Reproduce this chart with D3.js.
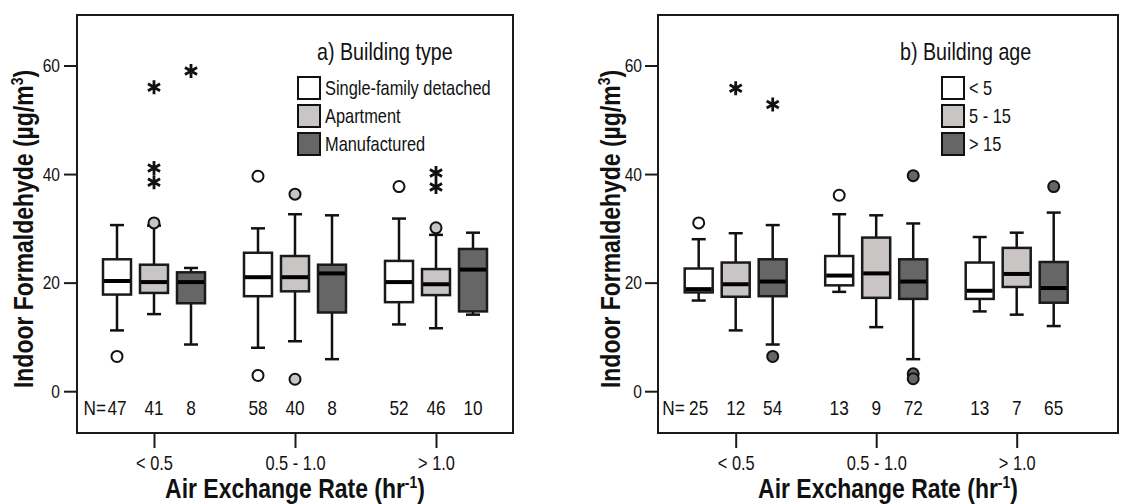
<!DOCTYPE html>
<meta charset="utf-8">
<style>
body { margin: 0; background: #fff; }
text { font-family: "Liberation Sans", Arial, sans-serif; fill: #111; }
.frame { fill: none; stroke: #1a1a1a; stroke-width: 2px; }
.axis path { display: none; }
.axis line { stroke: #1a1a1a; stroke-width: 2px; }
.axis text { font-size: 19px; fill: #111; }
.xaxis text { font-size: 20px; }
.title { font-size: 28px; font-weight: bold; }
.whisker { stroke: #111; stroke-width: 2.5px; }
.box { stroke: #1a1a1a; stroke-width: 2.5px; }
.median { stroke: #000; stroke-width: 4px; }
.outlier { stroke: #111; stroke-width: 2px; }
.star { stroke: #111; stroke-width: 2.8px; fill: none; }
.count { font-size: 21px; }
.legend-title { font-size: 24px; }
.legend-label { font-size: 20px; }
.swatch { stroke: #111; stroke-width: 2px; }
</style>
<svg width="1123" height="504"></svg>
<script src="https://d3js.org/d3.v7.min.js"></script>
<script>
// air exchange rate groups (x axis)
var rateGroups = ["< 0.5", "0.5 - 1.0", "> 1.0"];
var yTicks = [0, 20, 40, 60];
var fills = ["#ffffff", "#c9c5c5", "#666666"];

// panel a: building type
var typeSeries = ["Single-family detached", "Apartment", "Manufactured"];
// [lower whisker, q1, median, q3, upper whisker], by rate group then series
var typeStats = [
  [[11.2, 17.8, 20.3, 24.3, 30.6], [14.2, 18.1, 20.1, 23.3, 30.5], [8.6, 16.2, 20.1, 21.9, 22.7]],
  [[8.0, 17.5, 21.0, 25.5, 30.0], [9.2, 18.4, 21.0, 24.9, 32.6], [5.9, 14.5, 21.7, 23.3, 32.4]],
  [[12.3, 16.4, 20.1, 24.0, 31.8], [11.6, 17.7, 19.7, 22.5, 28.8], [14.1, 14.7, 22.4, 26.2, 29.2]]
];
var typeOutliers = [
  [[6.4], [31.0], []],
  [[39.6, 2.9], [36.3, 2.2], []],
  [[37.7], [30.1], []]
];
var typeExtremes = [
  [[], [56.0, 41.1, 38.5], [59.0]],
  [[], [], []],
  [[], [40.2, 37.6], []]
];
var typeN = [[47, 41, 8], [58, 40, 8], [52, 46, 10]];

// panel b: building age
var ageSeries = ["< 5", "5 - 15", "> 15"];
var ageStats = [
  [[16.7, 18.2, 18.8, 22.6, 28.0], [11.2, 17.4, 19.7, 23.7, 29.1], [8.6, 17.5, 20.2, 24.3, 30.6]],
  [[18.3, 19.5, 21.3, 24.9, 32.6], [11.8, 17.2, 21.7, 28.3, 32.4], [5.9, 17.0, 20.2, 24.3, 30.9]],
  [[14.7, 17.0, 18.5, 23.7, 28.4], [14.1, 19.2, 21.6, 26.4, 29.2], [12.0, 16.3, 19.0, 23.8, 32.9]]
];
var ageOutliers = [
  [[31.0], [], [6.4]],
  [[36.1], [], [39.7, 3.2, 2.3]],
  [[], [], [37.7]]
];
var ageExtremes = [
  [[], [55.8], [52.8]],
  [[], [], []],
  [[], [], []]
];
var ageN = [[25, 12, 54], [13, 9, 72], [13, 7, 65]];

var svg = d3.select("svg"),
    plotTop = 15,
    plotBottom = 433,
    boxWidth = 28,
    capWidth = 14,
    narrow = 0.82; // squeeze text to look like a narrow face

var y = d3.scaleLinear().domain([-7.7, 69.3]).range([plotBottom, plotTop]);

function drawPanel(p) {
  var g = svg.append("g");

  var x = d3.scalePoint().domain(rateGroups).range(p.groupRange);
  var xs = d3.scalePoint().domain(p.series).range([-37, 37]);
  var color = d3.scaleOrdinal().domain(p.series).range(fills);

  g.append("rect")
      .attr("class", "frame")
      .attr("x", p.x0)
      .attr("y", plotTop)
      .attr("width", p.x1 - p.x0)
      .attr("height", plotBottom - plotTop);

  g.append("g")
      .attr("class", "axis")
      .attr("transform", "translate(" + (p.x0 - 1) + ",0)")
      .call(d3.axisLeft(y).tickValues(yTicks).tickSize(12).tickPadding(p.tickPad));

  g.append("g")
      .attr("class", "axis xaxis")
      .attr("transform", "translate(0," + (plotBottom + 1) + ")")
      .call(d3.axisBottom(x).tickSize(14).tickPadding(8));

  var boxes = [];
  rateGroups.forEach(function(r, i) {
    p.series.forEach(function(s, j) {
      boxes.push({
        group: r, series: s, stats: p.stats[i][j],
        outliers: p.outliers[i][j], extremes: p.extremes[i][j], n: p.n[i][j],
        cx: x(r) + xs(s)
      });
    });
  });

  var box = g.selectAll(".boxplot")
    .data(boxes)
    .enter().append("g")
      .attr("class", "boxplot");

  box.append("line")
      .attr("class", "whisker")
      .attr("x1", function(d) { return d.cx; })
      .attr("x2", function(d) { return d.cx; })
      .attr("y1", function(d) { return y(d.stats[0]); })
      .attr("y2", function(d) { return y(d.stats[4]); });

  box.selectAll(".cap")
    .data(function(d) { return [d.stats[0], d.stats[4]].map(function(v) { return {cx: d.cx, v: v}; }); })
    .enter().append("line")
      .attr("class", "whisker cap")
      .attr("x1", function(d) { return d.cx - capWidth / 2; })
      .attr("x2", function(d) { return d.cx + capWidth / 2; })
      .attr("y1", function(d) { return y(d.v); })
      .attr("y2", function(d) { return y(d.v); });

  box.append("rect")
      .attr("class", "box")
      .attr("x", function(d) { return d.cx - boxWidth / 2; })
      .attr("width", boxWidth)
      .attr("y", function(d) { return y(d.stats[3]); })
      .attr("height", function(d) { return y(d.stats[1]) - y(d.stats[3]); })
      .attr("fill", function(d) { return color(d.series); });

  box.append("line")
      .attr("class", "median")
      .attr("x1", function(d) { return d.cx - boxWidth / 2 + 1; })
      .attr("x2", function(d) { return d.cx + boxWidth / 2 - 1; })
      .attr("y1", function(d) { return y(d.stats[2]); })
      .attr("y2", function(d) { return y(d.stats[2]); });

  box.selectAll(".outlier")
    .data(function(d) { return d.outliers.map(function(v) { return {cx: d.cx, v: v, series: d.series}; }); })
    .enter().append("circle")
      .attr("class", "outlier")
      .attr("cx", function(d) { return d.cx; })
      .attr("cy", function(d) { return y(d.v); })
      .attr("r", 5.5)
      .attr("fill", function(d) { return color(d.series); });

  // extremes drawn as asterisks
  box.selectAll(".star")
    .data(function(d) { return d.extremes.map(function(v) { return {cx: d.cx, v: v}; }); })
    .enter().append("path")
      .attr("class", "star")
      .attr("transform", function(d) { return "translate(" + d.cx + "," + y(d.v) + ")"; })
      .attr("d", function() {
        var a = 7, path = d3.path();
        [90, 30, 150].forEach(function(deg) {
          var t = deg * Math.PI / 180;
          path.moveTo(-a * Math.cos(t), -a * Math.sin(t));
          path.lineTo(a * Math.cos(t), a * Math.sin(t));
        });
        return path.toString();
      });

  box.append("text")
      .attr("class", "count")
      .attr("x", function(d) { return d.cx; })
      .attr("y", 415)
      .attr("text-anchor", "middle")
      .text(function(d) { return d.n; });

  g.append("text")
      .attr("class", "count")
      .attr("x", x(rateGroups[0]) + xs(p.series[0]) - p.nGap)
      .attr("y", 415)
      .attr("text-anchor", "end")
      .text("N=");

  // legend
  g.append("text")
      .attr("class", "legend-title")
      .attr("x", p.titleX)
      .attr("y", 60)
      .text(p.title);

  var item = g.selectAll(".legend-item")
    .data(p.series)
    .enter().append("g")
      .attr("class", "legend-item")
      .attr("transform", function(d, i) { return "translate(" + p.legendX + "," + (77 + i * 28) + ")"; });

  item.append("rect")
      .attr("class", "swatch")
      .attr("width", 22)
      .attr("height", 22)
      .attr("fill", function(d) { return color(d); });

  item.append("text")
      .attr("class", "legend-label")
      .attr("x", 27)
      .attr("y", 18)
      .text(function(d) { return d; });

  // axis titles
  var yt = g.append("text")
      .attr("class", "title")
      .attr("transform", "translate(" + p.yTitleX + ",229) rotate(-90)")
      .attr("text-anchor", "middle");
  yt.append("tspan").text("Indoor Formaldehyde (\u00b5g/m");
  yt.append("tspan").attr("dy", -10).style("font-size", "17px").text("3");
  yt.append("tspan").attr("dy", 10).text(")");

  var xt = g.append("text")
      .attr("class", "title")
      .attr("x", (p.x0 + p.x1) / 2)
      .attr("y", 498)
      .attr("text-anchor", "middle");
  xt.append("tspan").text("Air Exchange Rate (hr");
  xt.append("tspan").attr("dy", -10).style("font-size", "17px").text("-1");
  xt.append("tspan").attr("dy", 10).text(")");
}

drawPanel({
  x0: 77, x1: 513, groupRange: [154, 436], tickPad: 4, nGap: 11,
  series: typeSeries, stats: typeStats, outliers: typeOutliers, extremes: typeExtremes, n: typeN,
  title: "a) Building type", titleX: 317, legendX: 298, yTitleX: 33
});

drawPanel({
  x0: 658, x1: 1118, groupRange: [735.7, 1016.7], tickPad: 3, nGap: 14,
  series: ageSeries, stats: ageStats, outliers: ageOutliers, extremes: ageExtremes, n: ageN,
  title: "b) Building age", titleX: 900, legendX: 942, yTitleX: 620
});

// no narrow face installed: squeeze each text horizontally about its anchor
svg.selectAll("text").each(function() {
  var t = d3.select(this),
      tx = +t.attr("x") || 0,
      ty = +t.attr("y") || 0,
      tr = t.attr("transform") || "";
  t.attr("transform", tr + " translate(" + tx + "," + ty + ") scale(" + narrow + ",1) translate(" + (-tx) + "," + (-ty) + ")");
});
</script>
